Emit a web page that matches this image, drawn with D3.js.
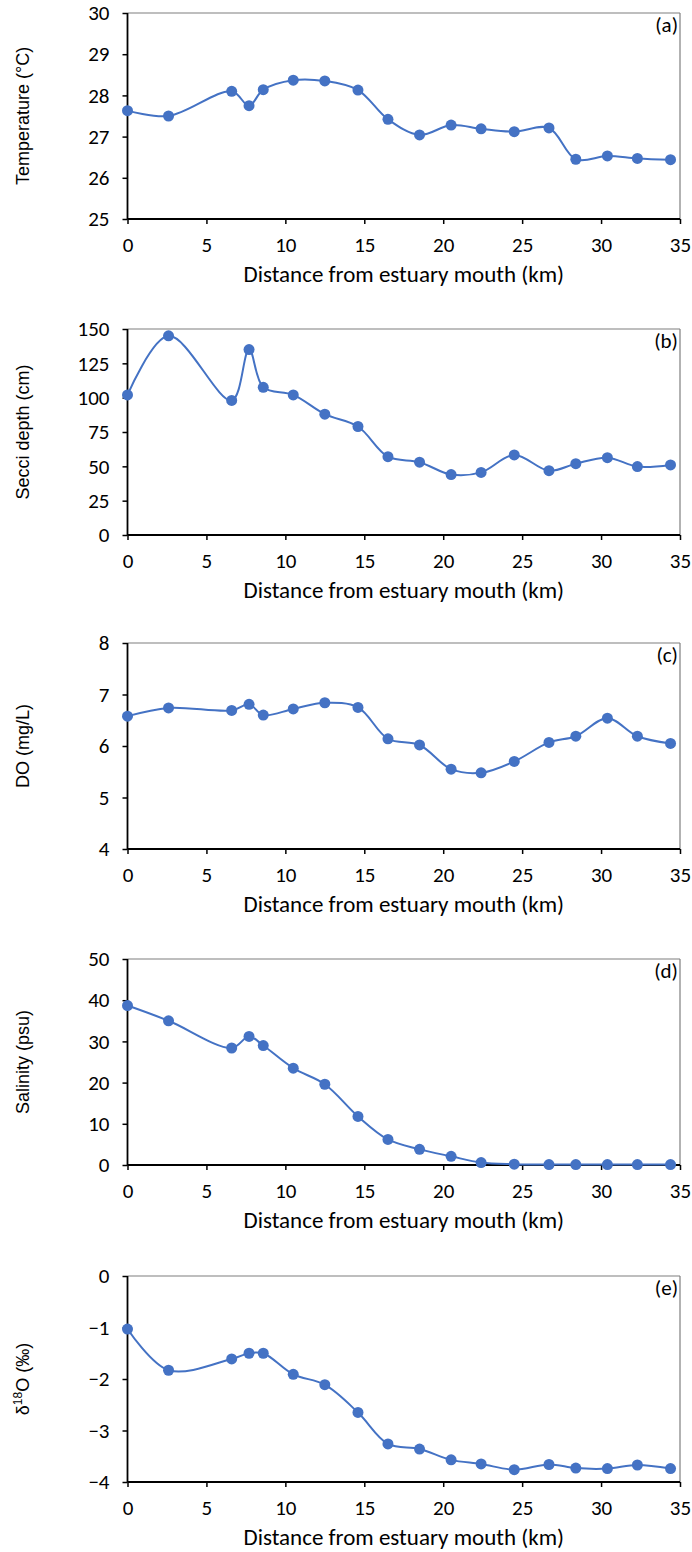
<!DOCTYPE html>
<html>
<head>
<meta charset="utf-8">
<script src="https://cdn.jsdelivr.net/npm/d3@7"></script>
<style>
  html, body { margin: 0; padding: 0; background: #fff; }
  svg { display: block; }
</style>
</head>
<body>
<svg id="chart" width="692" height="1552"></svg>
<script>
// ---------- data ----------
const distance = [0, 2.6, 6.6, 7.7, 8.6, 10.5, 12.5, 14.6, 16.5, 18.5, 20.5, 22.4, 24.5, 26.7, 28.4, 30.4, 32.3, 34.4];
const temperature = [27.63, 27.50, 28.10, 27.75, 28.14, 28.37, 28.35, 28.13, 27.42, 27.04, 27.28, 27.19, 27.12, 27.21, 26.45, 26.53, 26.47, 26.44];
const secchi = [102, 145, 98, 135, 107.5, 102, 88, 79, 57, 53, 44, 45.6, 58.3, 46.8, 51.9, 56.3, 49.8, 51];
const dissolvedOxygen = [6.58, 6.74, 6.69, 6.81, 6.60, 6.72, 6.84, 6.75, 6.14, 6.02, 5.55, 5.48, 5.70, 6.07, 6.19, 6.54, 6.19, 6.05];
const salinity = [38.7, 35.0, 28.4, 31.2, 29.0, 23.5, 19.6, 11.8, 6.2, 3.8, 2.1, 0.6, 0.2, 0.1, 0.1, 0.1, 0.1, 0.1];
const delta18O = [-1.03, -1.83, -1.61, -1.50, -1.50, -1.91, -2.11, -2.65, -3.26, -3.36, -3.57, -3.65, -3.76, -3.66, -3.73, -3.74, -3.67, -3.74];

const xTicks = [0, 5, 10, 15, 20, 25, 30, 35];
const tempTicks = [25, 26, 27, 28, 29, 30];
const secchiTicks = [0, 25, 50, 75, 100, 125, 150];
const doTicks = [4, 5, 6, 7, 8];
const salTicks = [0, 10, 20, 30, 40, 50];
const d18Ticks = [-4, -3, -2, -1, 0];

const panelLetters = ["(a)", "(b)", "(c)", "(d)", "(e)"];
const yTitles = ["Temperature (°C)", "Secci depth (cm)", "DO (mg/L)", "Salinity (psu)", null];
const xTitle = "Distance from estuary mouth (km)";

// ---------- layout ----------
const plotLeft = 127.5, plotRight = 680, plotH = 206;
const tops = [13, 329, 643, 959, 1276];
const blue = "#4472C4";
const tickFont = 'Carlito, "Liberation Sans Narrow", Roboto, sans-serif';
const titleFont = '"Liberation Sans", Arial, sans-serif';

const panels = [
  { values: temperature, ticks: tempTicks },
  { values: secchi, ticks: secchiTicks },
  { values: dissolvedOxygen, ticks: doTicks },
  { values: salinity, ticks: salTicks },
  { values: delta18O, ticks: d18Ticks }
];

const svg = d3.select("#chart");
const x = d3.scaleLinear().domain([0, 35]).range([plotLeft, plotRight]);

panels.forEach((p, i) => {
  const top = tops[i], bottom = top + plotH;
  const y = d3.scaleLinear().domain(d3.extent(p.ticks)).range([bottom, top]);
  const g = svg.append("g");

  // top & right frame (grey)
  g.append("line").attr("x1", plotLeft).attr("x2", plotRight).attr("y1", top).attr("y2", top)
    .attr("stroke", "#7f7f7f").attr("stroke-width", 1.2);
  g.append("line").attr("x1", plotRight).attr("x2", plotRight).attr("y1", top).attr("y2", bottom)
    .attr("stroke", "#7f7f7f").attr("stroke-width", 1.2);

  // axes
  const xAxis = g.append("g").attr("transform", `translate(0,${bottom})`)
    .call(d3.axisBottom(x).tickValues(xTicks).tickSize(5).tickPadding(13).tickFormat(d3.format("d")));
  const yAxis = g.append("g").attr("transform", `translate(${plotLeft},0)`)
    .call(d3.axisLeft(y).tickValues(p.ticks).tickSize(5).tickPadding(13).tickFormat(d3.format("d")));
  [xAxis, yAxis].forEach(a => {
    a.select(".domain").attr("stroke", "#000").attr("stroke-width", 1.8);
    a.selectAll(".tick line").attr("stroke", "#000").attr("stroke-width", 1.5);
    a.selectAll(".tick text").attr("fill", "#000").style("font-family", tickFont).style("font-size", "21px");
  });
  xAxis.select(".domain").attr("d", `M${plotLeft},0H${plotRight}`);
  yAxis.select(".domain").attr("d", `M0,${bottom}V${top}`);

  // smoothed line
  const pts = distance.map((d, k) => [x(d), y(p.values[k])]);
  g.append("path").attr("d", d3.line().curve(d3.curveCatmullRom.alpha(0.5))(pts))
    .attr("fill", "none").attr("stroke", blue).attr("stroke-width", 2);
  g.selectAll("circle").data(pts).join("circle")
    .attr("cx", d => d[0]).attr("cy", d => d[1]).attr("r", 5.5).attr("fill", blue);

  // panel letter
  g.append("text").attr("x", plotRight - 2).attr("y", top + 19).attr("text-anchor", "end")
    .style("font-family", tickFont).style("font-size", "21px").text(panelLetters[i]);

  // x title
  g.append("text").attr("x", (plotLeft + plotRight) / 2).attr("y", bottom + 63)
    .attr("text-anchor", "middle").style("font-family", tickFont).style("font-size", "23px").text(xTitle);

  // y title
  const cy = top + plotH / 2;
  const yt = g.append("text").attr("transform", `translate(29,${cy}) rotate(-90)`)
    .attr("text-anchor", "middle").style("font-family", titleFont).style("font-size", "18px");
  if (yTitles[i]) {
    yt.text(yTitles[i]);
  } else {
    yt.append("tspan").text("δ");
    yt.append("tspan").attr("dy", -7).style("font-size", "12px").text("18");
    yt.append("tspan").attr("dy", 7).text("O (‰)");
  }
});
</script>
</body>
</html>
